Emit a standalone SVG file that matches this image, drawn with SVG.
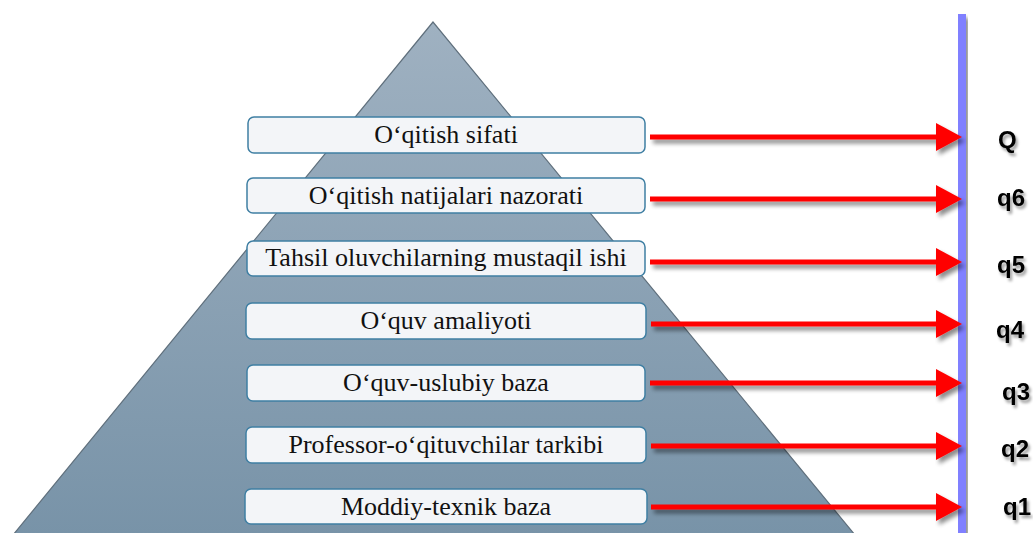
<svg xmlns="http://www.w3.org/2000/svg" width="1033" height="533" viewBox="0 0 1033 533">
<style>
.box{fill:#f3f5f8;stroke:#3f7fa3;stroke-width:1.5}
.lbl{font-family:"Liberation Serif","Times New Roman",serif;font-size:26px;fill:#111;text-anchor:middle}
.q{font-family:"Liberation Sans",Arial,sans-serif;font-size:24px;font-weight:bold;fill:#000}
.arr{stroke:#ff0000;stroke-width:5;fill:none}
.head{fill:#ff0000}
</style>
<defs>
<linearGradient id="pg" x1="0" y1="0" x2="0" y2="1">
<stop offset="0" stop-color="#9fb1c1"/>
<stop offset="1" stop-color="#7893a8"/>
</linearGradient>
<filter id="sh" x="-10%" y="-50%" width="130%" height="250%">
<feGaussianBlur in="SourceAlpha" stdDeviation="2"/>
<feOffset dx="3" dy="4" result="b"/>
<feComponentTransfer><feFuncA type="linear" slope="0.45"/></feComponentTransfer>
<feMerge><feMergeNode/><feMergeNode in="SourceGraphic"/></feMerge>
</filter>
<filter id="tsh" x="-30%" y="-30%" width="160%" height="160%">
<feGaussianBlur in="SourceAlpha" stdDeviation="1.5"/>
<feOffset dx="2" dy="3"/>
<feComponentTransfer><feFuncA type="linear" slope="0.4"/></feComponentTransfer>
<feMerge><feMergeNode/><feMergeNode in="SourceGraphic"/></feMerge>
</filter>
</defs>
<rect width="1033" height="533" fill="#ffffff"/>
<g id="pyramid">
<polygon points="433,22 13,535 855,535" fill="url(#pg)" stroke="#5f6f7c" stroke-width="1.2"/>
</g>
<g id="axis">
<rect x="958" y="14" width="8" height="525" fill="#8080ff" filter="url(#sh)"/>
</g>
<g id="connectors" filter="url(#sh)">
<line class="arr" x1="650" y1="137" x2="938" y2="137"/><polygon class="head" points="936,123 962,137 936,151"/>
<line class="arr" x1="650" y1="199" x2="938" y2="199"/><polygon class="head" points="936,185 962,199 936,213"/>
<line class="arr" x1="650" y1="262" x2="938" y2="262"/><polygon class="head" points="936,248 962,262 936,276"/>
<line class="arr" x1="651" y1="324" x2="938" y2="324"/><polygon class="head" points="936,310 962,324 936,338"/>
<line class="arr" x1="650" y1="383" x2="938" y2="383"/><polygon class="head" points="936,369 962,383 936,397"/>
<line class="arr" x1="651" y1="446" x2="938" y2="446"/><polygon class="head" points="936,432 962,446 936,460"/>
<line class="arr" x1="651" y1="507" x2="938" y2="507"/><polygon class="head" points="936,493 962,507 936,521"/>
</g>
<g id="n7"><rect class="box" x="248" y="117" width="397" height="36" rx="6"/><text class="lbl" x="446" y="143">O‘qitish sifati</text></g>
<g id="n6"><rect class="box" x="247" y="178" width="398" height="35" rx="6"/><text class="lbl" x="446" y="204">O‘qitish natijalari nazorati</text></g>
<g id="n5"><rect class="box" x="247" y="241" width="398" height="35" rx="6"/><text class="lbl" x="446" y="266">Tahsil oluvchilarning mustaqil ishi</text></g>
<g id="n4"><rect class="box" x="246" y="303" width="400" height="36" rx="6"/><text class="lbl" x="446" y="329">O‘quv amaliyoti</text></g>
<g id="n3"><rect class="box" x="247" y="365" width="398" height="36" rx="6"/><text class="lbl" x="446" y="391">O‘quv-uslubiy baza</text></g>
<g id="n2"><rect class="box" x="246" y="427" width="400" height="36" rx="6"/><text class="lbl" x="446" y="453">Professor-o‘qituvchilar tarkibi</text></g>
<g id="n1"><rect class="box" x="245" y="489" width="402" height="35" rx="6"/><text class="lbl" x="446" y="515">Moddiy-texnik baza</text></g>
<g id="labels" filter="url(#tsh)">
<text class="q" x="998" y="148">Q</text>
<text class="q" x="997" y="206">q6</text>
<text class="q" x="997" y="273">q5</text>
<text class="q" x="996" y="338">q4</text>
<text class="q" x="1002" y="400">q3</text>
<text class="q" x="1001" y="457">q2</text>
<text class="q" x="1003" y="515">q1</text>
</g>
</svg>
